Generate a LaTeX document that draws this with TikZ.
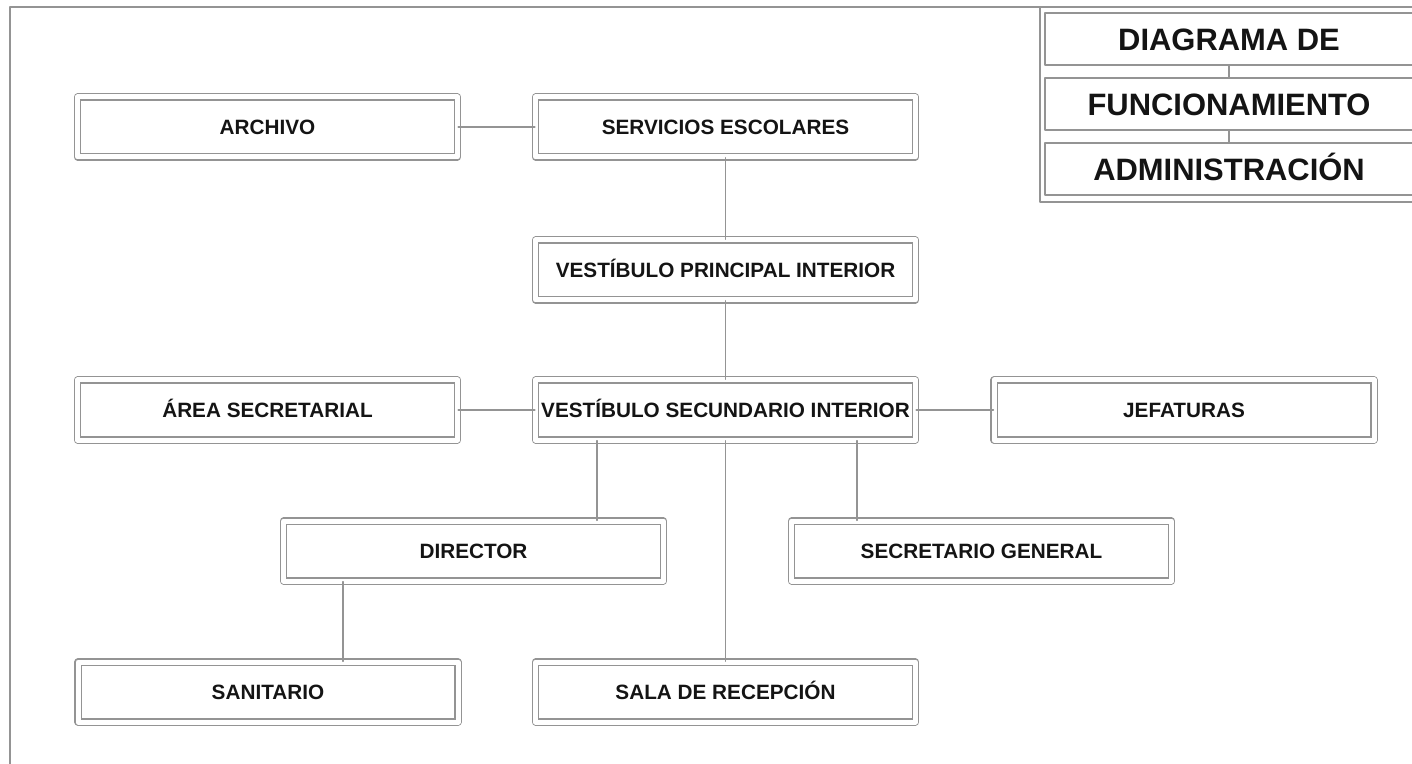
\documentclass[tikz,border=0pt]{standalone}
\usepackage{fontspec}
\setmainfont{Liberation Sans}
\usepackage{tikz}
\definecolor{linegray}{rgb}{0.58,0.58,0.58}
\definecolor{textblack}{rgb}{0.08,0.08,0.08}
\tikzset{
  room/.style={draw=linegray,line width=0.6pt,double=white,double distance=0.1cm,
    minimum width=7.6cm,minimum height=1.2cm,inner sep=0pt,text height=8.45pt,text depth=0pt,
    font=\bfseries\fontsize{11.8}{13}\selectfont,text=textblack},
  titlebox/.style={draw=linegray,line width=0.6pt,minimum width=7.36cm,minimum height=1.04cm,
    inner sep=0pt,text height=12.6pt,text depth=0pt,
    font=\bfseries\fontsize{17.6}{20}\selectfont,text=textblack},
  link/.style={draw=linegray,line width=0.6pt}
}
\begin{document}
\begin{tikzpicture}[line cap=round,line join=round,x=1.0cm,y=1.0cm]
	\useasboundingbox (0,0) rectangle (28.24,-15.28);
	\draw [link] (0.2,-16.) -- (0.2,-0.14) -- (28.6,-0.14);
	\draw [link] (20.8,-0.14) -- (20.8,-4.04) -- (28.6,-4.04);

	\node [titlebox] (tit1) at (24.58,-0.78) {DIAGRAMA DE};
	\node [titlebox] (tit2) at (24.58,-2.08) {FUNCIONAMIENTO};
	\node [titlebox] (tit3) at (24.58,-3.38) {ADMINISTRACIÓN};
	\draw [link] (tit1.south) -- (tit2.north);
	\draw [link] (tit2.south) -- (tit3.north);

	\node [room] (archivo) at (5.35,-2.54) {ARCHIVO};
	\node [room] (servicios) at (14.51,-2.54) {SERVICIOS ESCOLARES};
	\node [room] (vprincipal) at (14.51,-5.4) {VESTÍBULO PRINCIPAL INTERIOR};
	\node [room] (area) at (5.35,-8.2) {ÁREA SECRETARIAL};
	\node [room] (vsecundario) at (14.51,-8.2) {VESTÍBULO SECUNDARIO INTERIOR};
	\node [room] (jefaturas) at (23.68,-8.2) {JEFATURAS};
	\node [room] (director) at (9.47,-11.02) {DIRECTOR};
	\node [room] (secretario) at (19.63,-11.02) {SECRETARIO GENERAL};
	\node [room] (sanitario) at (5.36,-13.84) {SANITARIO};
	\node [room] (sala) at (14.51,-13.84) {SALA DE RECEPCIÓN};

	\coordinate (dirtap) at (11.94,0);
	\coordinate (sectap) at (17.14,0);
	\coordinate (santap) at (6.86,0);

	\draw [link] (archivo) -- (servicios);
	\draw [link] (servicios) -- (vprincipal);
	\draw [link] (vprincipal) -- (vsecundario);
	\draw [link] (area) -- (vsecundario);
	\draw [link] (vsecundario) -- (jefaturas);
	\draw [link] (vsecundario.south -| dirtap) -- (director.north -| dirtap);
	\draw [link] (vsecundario.south -| sectap) -- (secretario.north -| sectap);
	\draw [link] (vsecundario.south -| sala.north) -- (sala.north);
	\draw [link] (director.south -| santap) -- (sanitario.north -| santap);
\end{tikzpicture}
\end{document}
